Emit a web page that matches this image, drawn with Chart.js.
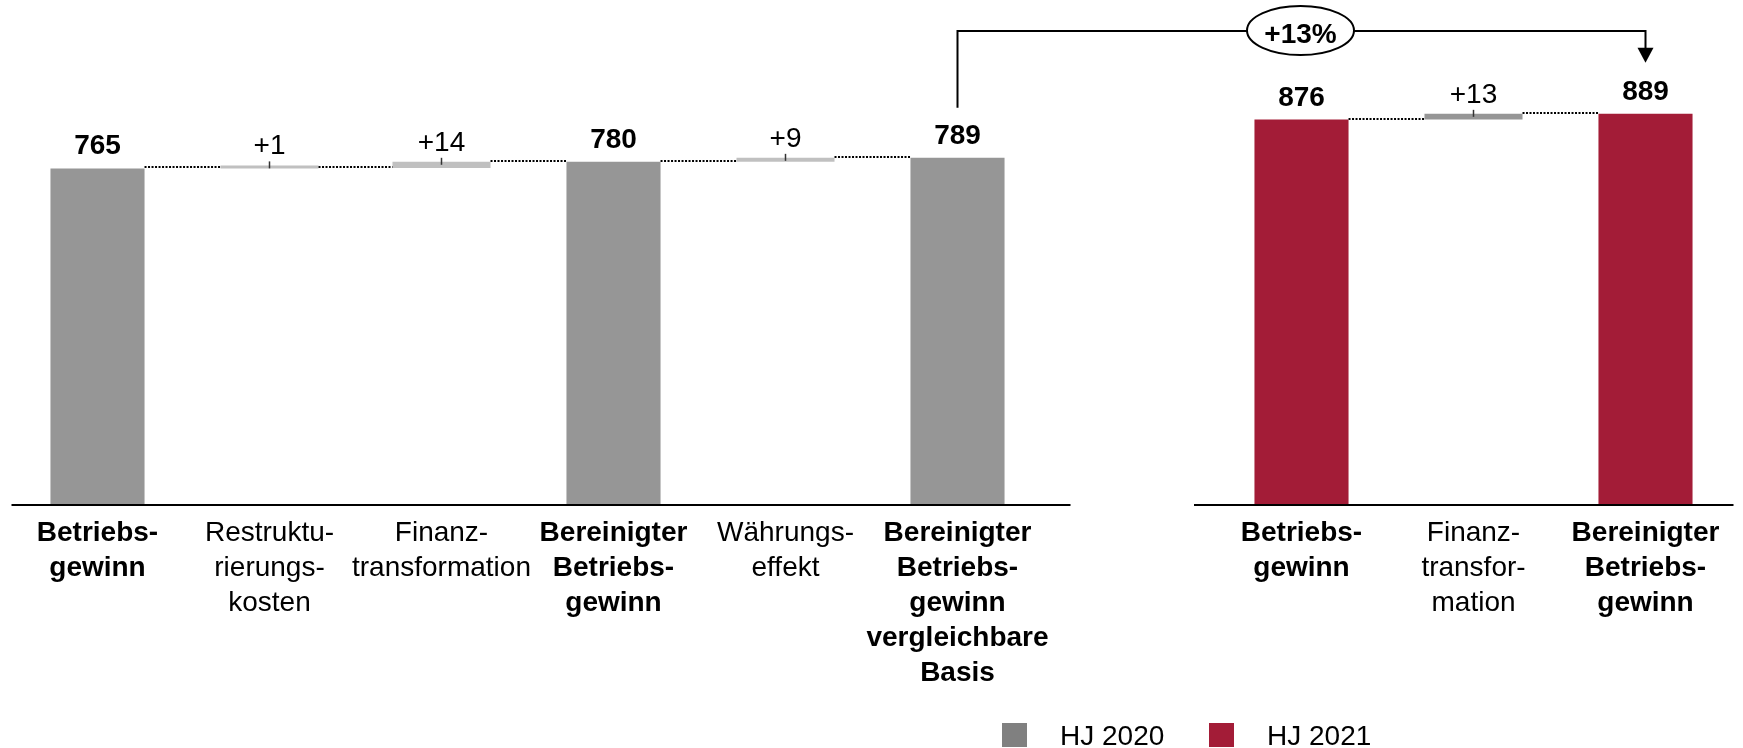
<!DOCTYPE html>
<html><head><meta charset="utf-8">
<script src="https://cdn.jsdelivr.net/npm/chart.js@4"></script>
<style>html,body{margin:0;padding:0;background:#fff}#wrap{width:1743px;height:748px}</style>
</head><body><div id="wrap"><canvas id="c" width="1743" height="748"></canvas></div>
<script>
// ---- data ----
const categories = [
  ["Betriebs-","gewinn"],
  ["Restruktu-","rierungs-","kosten"],
  ["Finanz-","transformation"],
  ["Bereinigter","Betriebs-","gewinn"],
  ["Währungs-","effekt"],
  ["Bereinigter","Betriebs-","gewinn","vergleichbare","Basis"],
  "",
  ["Betriebs-","gewinn"],
  ["Finanz-","transfor-","mation"],
  ["Bereinigter","Betriebs-","gewinn"]
];
const totals2020 = [765, null, null, 780, null, 789, null, null, null, null];
const totals2021 = [null, null, null, null, null, null, null, 876, null, 889];
const deltas     = [null, 1, 14, null, 9, null, null, null, 13, null];
const deltaLabels = ["", "+1", "+14", "", "+9", "", "", "", "+13", ""];
const seriesNames = ["HJ 2020", "HJ 2021"];
const growthLabel = "+13%";
const growthFrom = 5, growthTo = 9;

// ---- derived ----
const levels = [];
const deltaData = [];
let lvl = null;
for (let i = 0; i < categories.length; i++) {
  const t = totals2020[i] ?? totals2021[i];
  if (t != null) { lvl = t; deltaData.push(null); levels.push(t); }
  else if (deltas[i] != null) { deltaData.push([lvl, lvl + deltas[i]]); lvl += deltas[i]; levels.push(lvl); }
  else { deltaData.push(null); levels.push(null); lvl = null; }
}
const isTotal = categories.map((_, i) => totals2020[i] != null || totals2021[i] != null);
const deltaColors = categories.map((_, i) => i > 6 ? '#969696' : '#c0c0c0');

const FONT = '"Liberation Sans", Arial, Helvetica, sans-serif';
const C2020 = '#969696', C2021 = '#a31c37';

const deco = {
  id: 'deco',
  afterDatasetsDraw(chart) {
    const ctx = chart.ctx, xs = chart.scales.x, ys = chart.scales.y, ca = chart.chartArea;
    const step = xs.getPixelForValue(1) - xs.getPixelForValue(0);
    const els = [];
    for (let i = 0; i < categories.length; i++) {
      let el = null, kind = null;
      [0,1,2].forEach(d => {
        const data = chart.data.datasets[d].data[i];
        if (data != null) { el = chart.getDatasetMeta(d).data[i]; kind = d; }
      });
      els.push(el ? {el, kind} : null);
    }
    ctx.save();
    // axis lines
    ctx.strokeStyle = '#000'; ctx.lineWidth = 2; ctx.setLineDash([]);
    ctx.beginPath();
    ctx.moveTo(ca.left, ca.bottom); ctx.lineTo(xs.getPixelForValue(5) + step * 0.657, ca.bottom);
    ctx.moveTo(xs.getPixelForValue(7) - step * 0.625, ca.bottom); ctx.lineTo(ca.right + 2, ca.bottom);
    ctx.stroke();
    // connectors
    ctx.strokeStyle = '#000'; ctx.lineWidth = 2; ctx.setLineDash([2, 1.5]);
    for (let i = 0; i < els.length - 1; i++) {
      const a = els[i], b = els[i + 1];
      if (!a || !b) continue;
      const py = Math.round(ys.getPixelForValue(levels[i])) - 1;
      ctx.beginPath();
      ctx.moveTo(a.el.x + a.el.width / 2, py);
      ctx.lineTo(b.el.x - b.el.width / 2, py);
      ctx.stroke();
    }
    ctx.setLineDash([]);
    // labels
    ctx.fillStyle = '#000'; ctx.textAlign = 'center'; ctx.textBaseline = 'alphabetic';
    for (let i = 0; i < els.length; i++) {
      const e = els[i]; if (!e) continue;
      const top = Math.min(e.el.y, e.el.base);
      if (e.kind < 2) {
        ctx.font = 'bold 28px ' + FONT;
        ctx.fillText(String(totals2020[i] ?? totals2021[i]), e.el.x, top - 14);
      } else {
        ctx.font = '28px ' + FONT;
        ctx.fillText(deltaLabels[i], e.el.x, top - 11);
        ctx.strokeStyle = '#333'; ctx.lineWidth = 1.5;
        ctx.beginPath(); ctx.moveTo(e.el.x, top - 4); ctx.lineTo(e.el.x, top + 3); ctx.stroke();
      }
    }
    // growth bracket
    const a = els[growthFrom].el, b = els[growthTo].el;
    const yTop = ca.top + 10;
    const yStart = Math.min(a.y, a.base) - 50;
    const tip = Math.min(b.y, b.base) - 51;
    ctx.strokeStyle = '#000'; ctx.lineWidth = 2;
    ctx.beginPath();
    ctx.moveTo(a.x, yStart); ctx.lineTo(a.x, yTop); ctx.lineTo(b.x, yTop); ctx.lineTo(b.x, tip - 14);
    ctx.stroke();
    ctx.fillStyle = '#000';
    ctx.beginPath(); ctx.moveTo(b.x - 8, tip - 15); ctx.lineTo(b.x + 8, tip - 15); ctx.lineTo(b.x, tip); ctx.closePath(); ctx.fill();
    const cx = (a.x + b.x) / 2 - 1;
    ctx.beginPath(); ctx.ellipse(cx, yTop - 0.5, 53.5, 24.5, 0, 0, Math.PI * 2);
    ctx.fillStyle = '#fff'; ctx.fill(); ctx.stroke();
    ctx.fillStyle = '#000'; ctx.font = 'bold 28px ' + FONT;
    ctx.fillText(growthLabel, cx, yTop + 12);
    // legend
    const lx = [1002, 1209], colors = ['#808080', C2021];
    ctx.font = '28px ' + FONT; ctx.textAlign = 'left';
    for (let k = 0; k < 2; k++) {
      ctx.fillStyle = colors[k]; ctx.fillRect(lx[k], 723, 25, 24);
      ctx.fillStyle = '#000'; ctx.fillText(seriesNames[k], lx[k] + 58, 745);
    }
    ctx.restore();
  }
};

new Chart(document.getElementById('c'), {
  type: 'bar',
  data: {
    labels: categories,
    datasets: [
      { label: seriesNames[0], data: totals2020, backgroundColor: C2020, grouped: false, barPercentage: 0.547, categoryPercentage: 1 },
      { label: seriesNames[1], data: totals2021, backgroundColor: C2021, grouped: false, barPercentage: 0.547, categoryPercentage: 1 },
      { label: 'delta', data: deltaData, backgroundColor: deltaColors, grouped: false, barPercentage: 0.57, categoryPercentage: 1, minBarLength: 3 }
    ]
  },
  options: {
    responsive: false, animation: false,
    layout: { padding: { top: 21, left: 11.5, right: 11.5, bottom: 0 } },
    plugins: { legend: { display: false }, tooltip: { enabled: false } },
    scales: {
      y: { display: false, min: 0, max: 1100 },
      x: {
        grid: { display: false, drawTicks: false }, border: { display: false },
        ticks: {
          autoSkip: false, maxRotation: 0, minRotation: 0, padding: 11, color: '#000',
          font: (c) => ({ family: FONT, size: 28, lineHeight: 1.25, weight: isTotal[c.index] ? 'bold' : 'normal' })
        },
        afterFit(scale) { scale.height = 243; }
      }
    }
  },
  plugins: [deco]
});
</script></body></html>
